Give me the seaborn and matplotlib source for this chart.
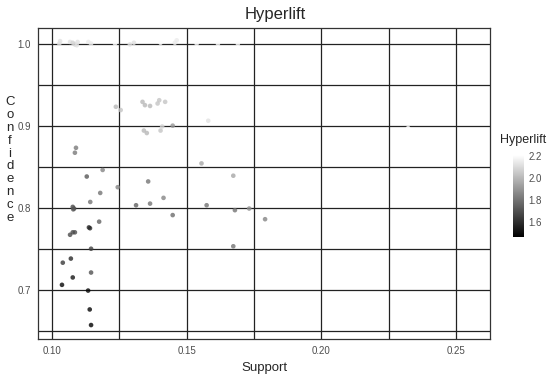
import numpy as np
import pandas as pd
import seaborn as sns
import matplotlib
matplotlib.use("Agg")
import matplotlib.pyplot as plt
from matplotlib.colors import LinearSegmentedColormap, Normalize
from matplotlib.cm import ScalarMappable
from matplotlib.ticker import MultipleLocator

support = [0.1030, 0.1027, 0.1067, 0.1077, 0.1085, 0.1095, 0.1092, 0.1135, 0.1145, 0.1234,
           0.1289, 0.1304, 0.1403, 0.1456, 0.1463, 0.1537, 0.1616, 0.1690,
           0.1237, 0.1255, 0.1336, 0.1345, 0.1364, 0.1392, 0.1398, 0.1420, 0.1341, 0.1352,
           0.1403, 0.1409, 0.1448, 0.1580, 0.2205, 0.2221, 0.2322, 0.2359,
           0.1089, 0.1085, 0.1555, 0.1188, 0.1129, 0.1673, 0.1244, 0.1357, 0.1179, 0.1142,
           0.1414, 0.1364, 0.1312, 0.1574, 0.1448, 0.1679, 0.1732, 0.1791, 0.1673,
           0.1077, 0.1082, 0.1079, 0.1175, 0.1137, 0.1141, 0.1067, 0.1077, 0.1085, 0.1145,
           0.1070, 0.1040, 0.1145, 0.1077, 0.1037, 0.1134, 0.1140, 0.1145]
confidence = [1.003, 1.000, 1.002, 1.001, 0.999, 1.002, 0.998, 1.002, 1.000, 1.000,
              0.999, 1.001, 1.001, 1.001, 1.004, 1.000, 1.000, 1.000,
              0.923, 0.919, 0.929, 0.925, 0.924, 0.927, 0.931, 0.929, 0.894, 0.891,
              0.894, 0.899, 0.900, 0.906, 0.890, 0.874, 0.897, 0.886,
              0.873, 0.867, 0.854, 0.846, 0.838, 0.839, 0.825, 0.832, 0.818, 0.807,
              0.812, 0.805, 0.803, 0.803, 0.791, 0.797, 0.799, 0.786, 0.753,
              0.801, 0.799, 0.798, 0.783, 0.776, 0.775, 0.767, 0.770, 0.770, 0.750,
              0.738, 0.733, 0.721, 0.715, 0.706, 0.699, 0.676, 0.657]
hyperlift = [2.12, 2.12, 2.12, 2.08, 2.08, 2.12, 2.12, 2.15, 2.15, 2.20,
             2.12, 2.12, 2.20, 2.15, 2.15, 2.20, 2.20, 2.20,
             2.00, 2.04, 2.00, 2.00, 2.00, 2.04, 2.04, 2.04, 2.00, 2.00,
             2.04, 2.08, 1.90, 2.12, 2.21, 2.21, 2.21, 2.21,
             1.82, 1.82, 1.95, 1.85, 1.72, 1.95, 1.85, 1.80, 1.80, 1.80,
             1.85, 1.80, 1.75, 1.80, 1.78, 1.80, 1.88, 1.85, 1.80,
             1.68, 1.68, 1.72, 1.75, 1.58, 1.58, 1.68, 1.68, 1.68, 1.65,
             1.58, 1.63, 1.70, 1.53, 1.48, 1.48, 1.47, 1.46]

df = pd.DataFrame({"Support": support, "Confidence": confidence, "Hyperlift": hyperlift})

cmap = LinearSegmentedColormap.from_list("bw", ["#000000", "#ffffff"])
vmin, vmax = min(hyperlift), max(hyperlift)
norm = Normalize(vmin=vmin, vmax=vmax)

sns.set_style("white")
plt.rcParams["font.family"] = ["Liberation Sans", "DejaVu Sans"]

fig = plt.figure(figsize=(5.5, 3.75), dpi=100)
ax = fig.add_axes([38/550, 1-339/375, (490-38)/550, (339-28)/375])

sns.scatterplot(data=df, x="Support", y="Confidence", hue="Hyperlift", palette=cmap,
                hue_norm=norm, s=11, linewidth=0, alpha=0.8, legend=False, ax=ax, zorder=3)

ax.set_xlim(0.0948, 0.2626)
ax.set_ylim(0.640, 1.019)
ax.xaxis.set_major_locator(MultipleLocator(0.05))
ax.xaxis.set_minor_locator(MultipleLocator(0.025))
ax.yaxis.set_major_locator(MultipleLocator(0.1))
ax.yaxis.set_minor_locator(MultipleLocator(0.05))
ax.xaxis.set_major_formatter(matplotlib.ticker.FormatStrFormatter("%.2f"))
ax.yaxis.set_major_formatter(matplotlib.ticker.FormatStrFormatter("%.1f"))
ax.grid(True, which="both", color="#222222", linewidth=0.9, zorder=0)
ax.set_axisbelow(True)
for sp in ax.spines.values():
    sp.set_color("#333333")
    sp.set_linewidth(0.9)
ax.tick_params(axis="both", which="major", direction="out", length=3, width=0.8,
               color="#333333", labelsize=7, labelcolor="#4d4d4d", pad=2)
ax.tick_params(axis="both", which="minor", length=0)

ax.set_xlabel("Support", fontsize=9.5, labelpad=4)
ax.set_ylabel("")
fig.text(10/550, 1-160/375, "\n".join("Confidence"), ha="center", va="center",
         fontsize=9.5, linespacing=1.1)
fig.suptitle("Hyperlift", x=0.5, y=1-14/375, va="center", fontsize=12)

cax = fig.add_axes([513/550, 1-237/375, 11/550, (237-155)/375])
sm = ScalarMappable(norm=norm, cmap=cmap)
cb = fig.colorbar(sm, cax=cax, ticks=[1.6, 1.8, 2.0, 2.2])
cb.outline.set_visible(False)
cb.ax.tick_params(length=3, width=0.8, color="white", direction="in", labelsize=7,
                  labelcolor="#4d4d4d", pad=3)
cb.ax.set_yticklabels(["1.6", "1.8", "2.0", "2.2"])
fig.text(500/550, 1-140/375, "Hyperlift", ha="left", va="center", fontsize=9)

fig.savefig("out.png", dpi=100)
